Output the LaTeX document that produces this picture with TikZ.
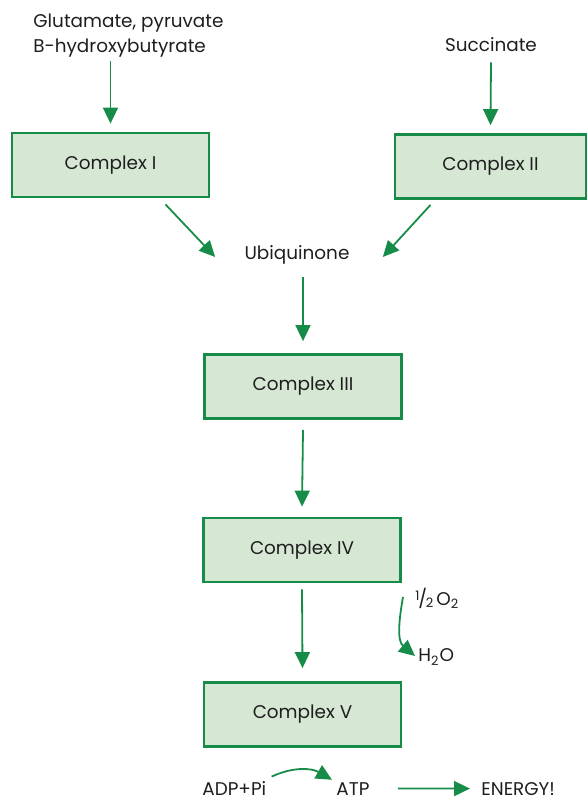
\documentclass[tikz,border=0pt]{standalone}
\usepackage{fontspec}
\setmainfont{Poppins}
\usetikzlibrary{arrows.meta}
\definecolor{chaingreen}{RGB}{22,140,72}
\definecolor{boxfill}{RGB}{214,232,211}
\definecolor{inktext}{RGB}{30,30,30}

\begin{document}
\begin{tikzpicture}[x=0.5pt, y=0.5pt]
    \useasboundingbox (0, 0) rectangle (587, -804); % bounding box

    \tikzset{
        complex/.style={draw=chaingreen, fill=boxfill, line width=1.4pt,
            minimum width=98.5pt, minimum height=32pt, inner sep=0pt,
            text=inktext, font=\fontsize{9.2}{11}\selectfont},
        chem/.style={inner sep=0pt, text=inktext, font=\fontsize{9.2}{12.5}\selectfont},
        flow/.style={draw=chaingreen, line width=0.9pt, -{Triangle[length=8pt, width=7.5pt]}},
    }

    % substrates
    \node at ( 33,  -13) [chem, anchor=north west, align=left] (glu)  {Glutamate, pyruvate\\B-hydroxybutyrate};
    \node at (491,  -45) [chem]                                (succ) {Succinate};
    \node at (297, -255) [chem]                                (ubq)  {Ubiquinone};

    % complexes
    \node at (110.5, -165)   [complex]                        (c1) {Complex I};
    \node at (490.5, -166.5) [complex, minimum width=95.5pt]  (c2) {Complex II};
    \node at (303,   -386.5) [complex]                        (c3) {Complex III};
    \node at (302,   -550)   [complex]                        (c4) {Complex IV};
    \node at (302.5, -714.5) [complex]                        (c5) {Complex V};

    % oxygen and products
    \node at (415, -598) [chem, anchor=west]      (o2)     {\raisebox{2.5pt}{\fontsize{6.5}{7}\selectfont 1}\kern-0.6pt/\kern-0.6pt\raisebox{-1pt}{\fontsize{6.5}{7}\selectfont 2}\,O\textsubscript{2}};
    \node at (418, -657) [chem, anchor=west]      (h2o)    {H\textsubscript{2}O};
    \node at (202, -795) [chem, anchor=base west] (adp)    {ADP+Pi};
    \node at (336, -795) [chem, anchor=base west] (atp)    {ATP};
    \node at (481, -795) [chem, anchor=base west] (energy) {ENERGY!};

    % electron flow
    \begin{scope}[every path/.style={flow}]
        \draw ([yshift=-2pt]glu.south -| c1.north) -- ([yshift=4pt]c1.north);
        \draw ([yshift=-5pt]succ.south)           -- ([yshift=4pt]c2.north);
        \draw ([shift={( 55, -6)}]c1.south)        -- ([shift={(-29, -2)}]ubq.west);
        \draw ([shift={(-60, -5)}]c2.south)        -- ([shift={( 33, -2)}]ubq.east);
        \draw ([yshift=-6pt]ubq.south -| c3.north) -- ([yshift=6pt]c3.north);
        \draw ([yshift=-5pt]c3.south)              -- ([yshift=5pt]c4.north);
        \draw ([yshift=-3pt]c4.south)              -- ([yshift=6.5pt]c5.north);
    \end{scope}

    % reactions
    \begin{scope}[every path/.style={flow}]
        \draw ([shift={(-12, 1)}]o2.west)       to[out=-100, in=140] ([shift={(-3, 1)}]h2o.west);
        \draw ([shift={(5, 4)}]adp.north east)  to[out=25, in=150]   ([shift={(-4, 2)}]atp.north west);
        \draw ([xshift=14pt]atp.east)           -- ([xshift=-5.5pt]energy.west);
    \end{scope}
\end{tikzpicture}
\end{document}
